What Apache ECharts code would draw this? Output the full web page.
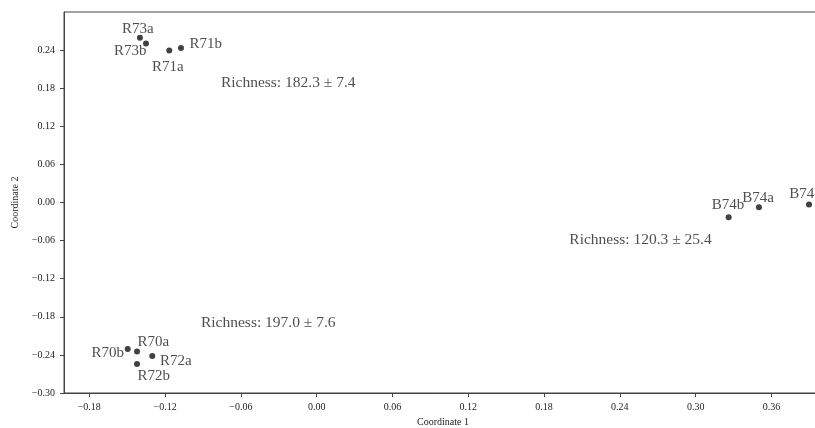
<!DOCTYPE html>
<html>
<head>
<meta charset="utf-8">
<script src="https://cdn.jsdelivr.net/npm/echarts@6/dist/echarts.min.js"></script>
<style>
html,body{margin:0;padding:0;background:#fff;}
#chart{width:815px;height:428px;}
</style>
</head>
<body>
<div id="chart"></div>
<script>
// ---- data ----
var sampleNames = ['R73a','R73b','R71a','R71b','R70b','R70a','R72a','R72b','B74b','B74a','B74c'];
var coord1 = [-0.1399,-0.1351,-0.1167,-0.1074,-0.1496,-0.1422,-0.1301,-0.1422,0.3261,0.3501,0.3897];
var coord2 = [0.2596,0.2502,0.2392,0.2434,-0.2309,-0.2345,-0.2419,-0.2544,-0.0231,-0.0074,-0.0031];

var richnessTexts = ['Richness: 182.3 \u00b1 7.4','Richness: 120.3 \u00b1 25.4','Richness: 197.0 \u00b1 7.6'];
var richnessX = [-0.0758, 0.2000, -0.0916];
var richnessY = [0.1883, -0.0588, -0.1899];

var xTicks = [-0.18,-0.12,-0.06,0.00,0.06,0.12,0.18,0.24,0.30,0.36];
var yTicks = [-0.30,-0.24,-0.18,-0.12,-0.06,0.00,0.06,0.12,0.18,0.24];

// ---- label placement (style) ----
var labelOffsets = {
  R73a:[-2,-8.5], R73b:[-15.7,7.5], R71a:[-1.5,16], R71b:[24.7,-4],
  R70b:[-20,4], R70a:[16.3,-9.6], R72a:[23.4,5.3], R72b:[16.8,12.3],
  B74b:[-0.7,-11.7], B74a:[-1,-9.4], B74c:[-4,-10]
};

var FONT = '"Liberation Serif","Times New Roman",serif';
function fmt(v){
  var s = Math.abs(v).toFixed(2);
  return (v < -1e-9 ? '\u2212' : '') + s;
}

var pts = sampleNames.map(function(n,i){
  return {name:n, value:[coord1[i], coord2[i]],
    label:{offset: labelOffsets[n]}};
});
var rich = richnessTexts.map(function(t,i){
  return {name:t, value:[richnessX[i], richnessY[i]]};
});

var chart = echarts.init(document.getElementById('chart'), null, {renderer:'canvas'});
chart.setOption({
  animation:false,
  backgroundColor:'#fff',
  grid:{left:64, top:12, bottom:35, right:-7, containLabel:false, outerBoundsMode:'none',
        show:true, borderColor:'#444', borderWidth:1},
  xAxis:{
    type:'value', min:-0.20, max:0.40,
    name:'Coordinate 1', nameLocation:'middle', nameGap:24,
    nameTextStyle:{fontFamily:FONT, fontSize:10, color:'#222'},
    splitLine:{show:false},
    axisLine:{show:true, onZero:false, lineStyle:{color:'#444', width:1}},
    axisTick:{show:true, length:4, inside:false, customValues:xTicks, lineStyle:{color:'#444'}},
    axisLabel:{customValues:xTicks, margin:9, fontFamily:FONT, fontSize:10, color:'#222', formatter:fmt}
  },
  yAxis:{
    type:'value', min:-0.30, max:0.30,
    name:'Coordinate 2', nameLocation:'middle', nameGap:44,
    nameTextStyle:{fontFamily:FONT, fontSize:10, color:'#222'},
    splitLine:{show:false},
    axisLine:{show:true, onZero:false, lineStyle:{color:'#444', width:1}},
    axisTick:{show:true, length:4, inside:false, customValues:yTicks, lineStyle:{color:'#444'}},
    axisLabel:{customValues:yTicks, margin:9, fontFamily:FONT, fontSize:10, color:'#222', formatter:fmt}
  },
  series:[
    {
      type:'scatter', symbol:'circle', symbolSize:6,
      itemStyle:{color:'#111'},
      label:{show:true, position:'inside', align:'center', verticalAlign:'middle',
        formatter:'{b}', fontFamily:FONT, fontSize:15, color:'#222'},
      data:pts
    },
    {
      type:'scatter', symbolSize:0, silent:true,
      label:{show:true, position:'inside', align:'left', verticalAlign:'middle',
        formatter:'{b}', fontFamily:FONT, fontSize:15.5, color:'#222'},
      data:rich
    }
  ]
});
</script>
</body>
</html>
